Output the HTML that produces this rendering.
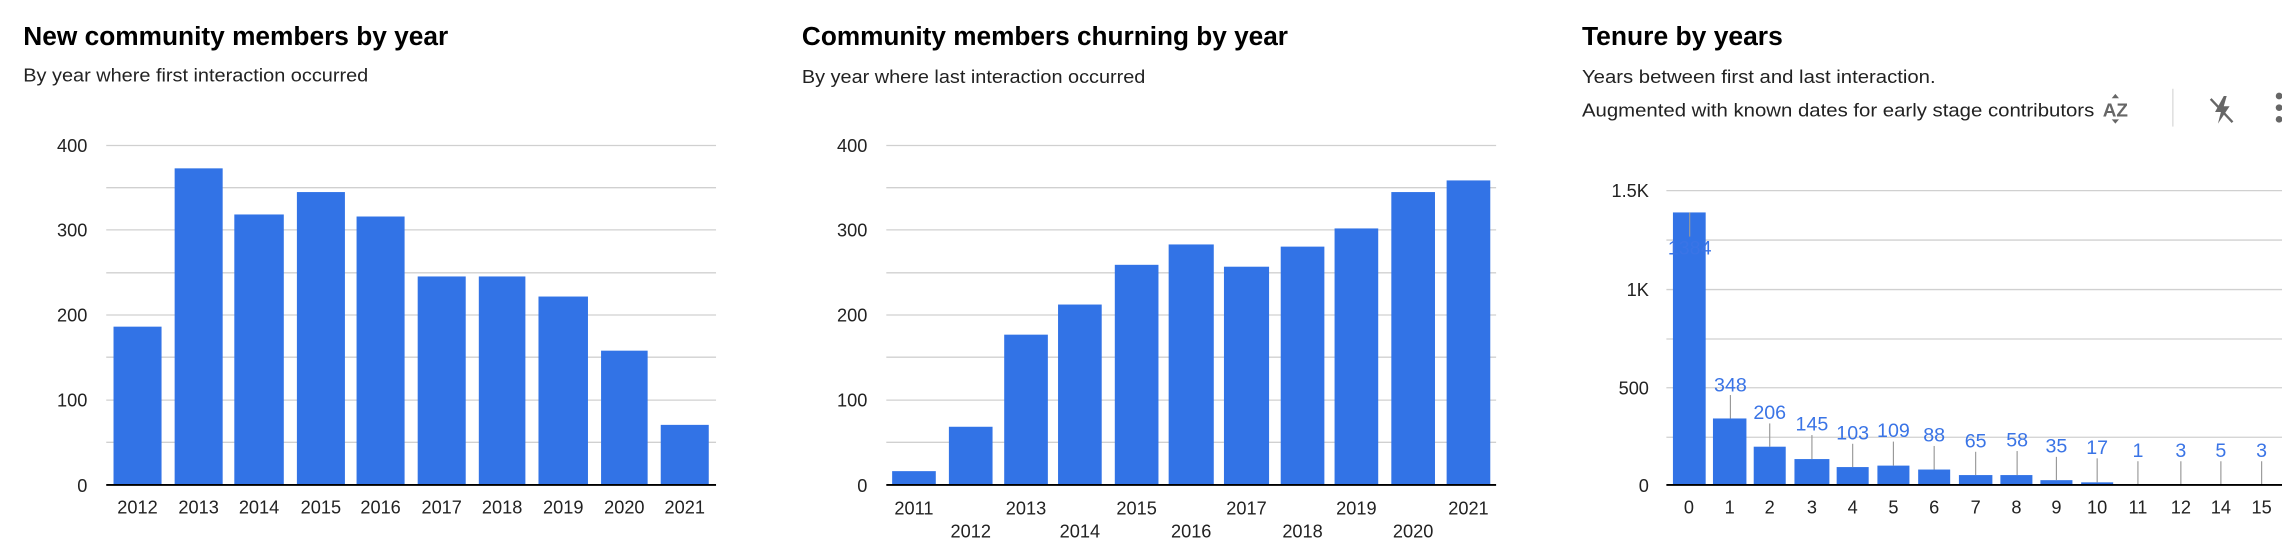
<!DOCTYPE html>
<html><head><meta charset="utf-8"><style>
html,body{margin:0;padding:0;background:#fff;overflow:hidden}
svg{display:block}
text{font-family:"Liberation Sans Narrow","Liberation Sans",sans-serif}
</style></head><body>
<svg width="2282" height="542" viewBox="0 0 1568 372.5" preserveAspectRatio="none" xmlns="http://www.w3.org/2000/svg">
<g id="c1">
<text x="16" y="31" font-size="17.5" font-weight="bold" textLength="292" lengthAdjust="spacingAndGlyphs">New community members by year</text>
<text x="16" y="56" font-size="13" fill="#222" textLength="237" lengthAdjust="spacingAndGlyphs">By year where first interaction occurred</text>
<g stroke="#d0d0d0" stroke-width="0.9">
<line x1="73" x2="492" y1="100" y2="100"/><line x1="73" x2="492" y1="129" y2="129"/><line x1="73" x2="492" y1="158" y2="158"/><line x1="73" x2="492" y1="187.5" y2="187.5"/><line x1="73" x2="492" y1="216.5" y2="216.5"/><line x1="73" x2="492" y1="245.5" y2="245.5"/><line x1="73" x2="492" y1="275" y2="275"/><line x1="73" x2="492" y1="304" y2="304"/>
</g>
<g font-size="12.5" fill="#222" text-anchor="end">
<text x="60" y="104.5">400</text><text x="60" y="162.5">300</text><text x="60" y="221">200</text><text x="60" y="279.5">100</text><text x="60" y="338">0</text>
</g>
<g fill="#3273e6">
<rect x="78" y="224.5" width="33" height="108.5"/>
<rect x="120" y="115.7" width="33" height="217.3"/>
<rect x="161" y="147.4" width="34" height="185.6"/>
<rect x="204" y="132" width="33" height="201"/>
<rect x="245" y="148.8" width="33" height="184.2"/>
<rect x="287" y="190" width="33" height="143"/>
<rect x="329" y="190" width="32" height="143"/>
<rect x="370" y="203.8" width="34" height="129.2"/>
<rect x="413" y="241" width="32" height="92"/>
<rect x="454" y="292" width="33" height="41"/>
</g>
<line x1="73" x2="492" y1="333.3" y2="333.3" stroke="#000" stroke-width="1.3"/>
<g font-size="12.5" fill="#222" text-anchor="middle">
<text x="94.5" y="353">2012</text><text x="136.5" y="353">2013</text><text x="178" y="353">2014</text><text x="220.5" y="353">2015</text><text x="261.5" y="353">2016</text><text x="303.5" y="353">2017</text><text x="345" y="353">2018</text><text x="387" y="353">2019</text><text x="429" y="353">2020</text><text x="470.5" y="353">2021</text>
</g>
</g>

<g id="c2">
<text x="551" y="31" font-size="17.5" font-weight="bold" textLength="334" lengthAdjust="spacingAndGlyphs">Community members churning by year</text>
<text x="551" y="57" font-size="13" fill="#222" textLength="236" lengthAdjust="spacingAndGlyphs">By year where last interaction occurred</text>
<g stroke="#d0d0d0" stroke-width="0.9">
<line x1="609" x2="1028" y1="100" y2="100"/><line x1="609" x2="1028" y1="129" y2="129"/><line x1="609" x2="1028" y1="158" y2="158"/><line x1="609" x2="1028" y1="187.5" y2="187.5"/><line x1="609" x2="1028" y1="216.5" y2="216.5"/><line x1="609" x2="1028" y1="245.5" y2="245.5"/><line x1="609" x2="1028" y1="275" y2="275"/><line x1="609" x2="1028" y1="304" y2="304"/>
</g>
<g font-size="12.5" fill="#222" text-anchor="end">
<text x="596" y="104.5">400</text><text x="596" y="162.5">300</text><text x="596" y="221">200</text><text x="596" y="279.5">100</text><text x="596" y="338">0</text>
</g>
<g fill="#3273e6">
<rect x="613" y="323.8" width="30" height="9.2"/>
<rect x="652" y="293.3" width="30" height="39.7"/>
<rect x="690" y="230" width="30" height="103"/>
<rect x="727" y="209.3" width="30" height="123.7"/>
<rect x="766" y="182" width="30" height="151"/>
<rect x="803" y="168" width="31" height="165"/>
<rect x="841" y="183.3" width="31" height="149.7"/>
<rect x="880" y="169.5" width="30" height="163.5"/>
<rect x="917" y="157" width="30" height="176"/>
<rect x="956" y="132" width="30" height="201"/>
<rect x="994" y="124" width="30" height="209"/>
</g>
<line x1="609" x2="1028" y1="333.3" y2="333.3" stroke="#000" stroke-width="1.3"/>
<g font-size="12.5" fill="#222" text-anchor="middle">
<text x="628" y="353.5">2011</text><text x="705" y="353.5">2013</text><text x="781" y="353.5">2015</text><text x="856.5" y="353.5">2017</text><text x="932" y="353.5">2019</text><text x="1009" y="353.5">2021</text>
<text x="667" y="369.5">2012</text><text x="742" y="369.5">2014</text><text x="818.5" y="369.5">2016</text><text x="895" y="369.5">2018</text><text x="971" y="369.5">2020</text>
</g>
</g>

<g id="c3">
<text x="1087" y="31" font-size="17.5" font-weight="bold" textLength="138" lengthAdjust="spacingAndGlyphs">Tenure by years</text>
<text x="1087" y="57" font-size="13" fill="#222" textLength="243" lengthAdjust="spacingAndGlyphs">Years between first and last interaction.</text>
<text x="1087" y="80" font-size="13" fill="#222" textLength="352" lengthAdjust="spacingAndGlyphs">Augmented with known dates for early stage contributors</text>
<text x="1453.5" y="80" font-size="13" font-weight="bold" fill="#666" text-anchor="middle">AZ</text>
<path d="M1451 67.5 L1453.5 64.5 L1456 67.5Z M1451 82 L1453.5 85 L1456 82Z" fill="#666"/>
<line x1="1493" x2="1493" y1="61" y2="87" stroke="#ddd" stroke-width="1"/>
<path d="M1528 66 L1522 77 L1526 77 L1524 85 L1532 73 L1528 73 L1530 66Z" fill="#666"/>
<line x1="1519" y1="68" x2="1534" y2="84" stroke="#666" stroke-width="1.6"/>
<g fill="#666"><circle cx="1566" cy="66" r="2.3"/><circle cx="1566" cy="74" r="2.3"/><circle cx="1566" cy="82" r="2.3"/></g>
<g stroke="#d0d0d0" stroke-width="0.9">
<line x1="1145" x2="1568" y1="131" y2="131"/><line x1="1145" x2="1568" y1="165" y2="165"/><line x1="1145" x2="1568" y1="199" y2="199"/><line x1="1145" x2="1568" y1="233" y2="233"/><line x1="1145" x2="1568" y1="266.5" y2="266.5"/><line x1="1145" x2="1568" y1="300.5" y2="300.5"/>
</g>
<g font-size="12.5" fill="#222" text-anchor="end">
<text x="1133" y="135.5">1.5K</text><text x="1133" y="203.5">1K</text><text x="1133" y="271">500</text><text x="1133" y="338">0</text>
</g>
<g fill="#3273e6">
<rect x="1149.5" y="146" width="22.5" height="187"/>
<rect x="1177" y="287.6" width="23" height="45.4"/>
<rect x="1205" y="307" width="22" height="26"/>
<rect x="1233" y="315.5" width="24" height="17.5"/>
<rect x="1262" y="321" width="22" height="12"/>
<rect x="1290" y="320" width="22" height="13"/>
<rect x="1318" y="322.7" width="22" height="10.3"/>
<rect x="1346" y="326.5" width="23" height="6.5"/>
<rect x="1374.5" y="326.5" width="22" height="6.5"/>
<rect x="1402" y="330" width="22" height="3"/>
<rect x="1430" y="331.5" width="22" height="1.5"/>
</g>
<g stroke="#999" stroke-width="0.8">
<line x1="1161" x2="1161" y1="146" y2="162.6"/>
<line x1="1189" x2="1189" y1="271.5" y2="287.6"/>
<line x1="1216" x2="1216" y1="291" y2="307"/>
<line x1="1245" x2="1245" y1="299" y2="315.5"/>
<line x1="1273" x2="1273" y1="305" y2="321"/>
<line x1="1301" x2="1301" y1="303.5" y2="320"/>
<line x1="1329" x2="1329" y1="306.5" y2="322.7"/>
<line x1="1357.5" x2="1357.5" y1="310.5" y2="326.5"/>
<line x1="1386" x2="1386" y1="310" y2="326.5"/>
<line x1="1413" x2="1413" y1="314" y2="330"/>
<line x1="1441" x2="1441" y1="315" y2="331.5"/>
<line x1="1469" x2="1469" y1="317" y2="333"/>
<line x1="1498.5" x2="1498.5" y1="317" y2="333"/>
<line x1="1526" x2="1526" y1="317" y2="333"/>
<line x1="1554" x2="1554" y1="317" y2="333"/>
</g>
<g font-size="13.5" fill="#3a74e6" text-anchor="middle">
<text x="1161" y="175">1384</text>
<text x="1189" y="269">348</text>
<text x="1216" y="288">206</text>
<text x="1245" y="296">145</text>
<text x="1273" y="302">103</text>
<text x="1301" y="300.5">109</text>
<text x="1329" y="303.5">88</text>
<text x="1357.5" y="307.6">65</text>
<text x="1386" y="307">58</text>
<text x="1413" y="311">35</text>
<text x="1441" y="312">17</text>
<text x="1469" y="314">1</text>
<text x="1498.5" y="314">3</text>
<text x="1526" y="314">5</text>
<text x="1554" y="314">3</text>
</g>
<line x1="1145" x2="1568" y1="333.3" y2="333.3" stroke="#000" stroke-width="1.3"/>
<g font-size="12.5" fill="#222" text-anchor="middle">
<text x="1160.5" y="353">0</text><text x="1188.5" y="353">1</text><text x="1216" y="353">2</text><text x="1245" y="353">3</text><text x="1273" y="353">4</text><text x="1301" y="353">5</text><text x="1329" y="353">6</text><text x="1357.5" y="353">7</text><text x="1385.5" y="353">8</text><text x="1413" y="353">9</text><text x="1441" y="353">10</text><text x="1469" y="353">11</text><text x="1498.5" y="353">12</text><text x="1526" y="353">14</text><text x="1554" y="353">15</text>
</g>
</g>
</svg>
</body></html>
